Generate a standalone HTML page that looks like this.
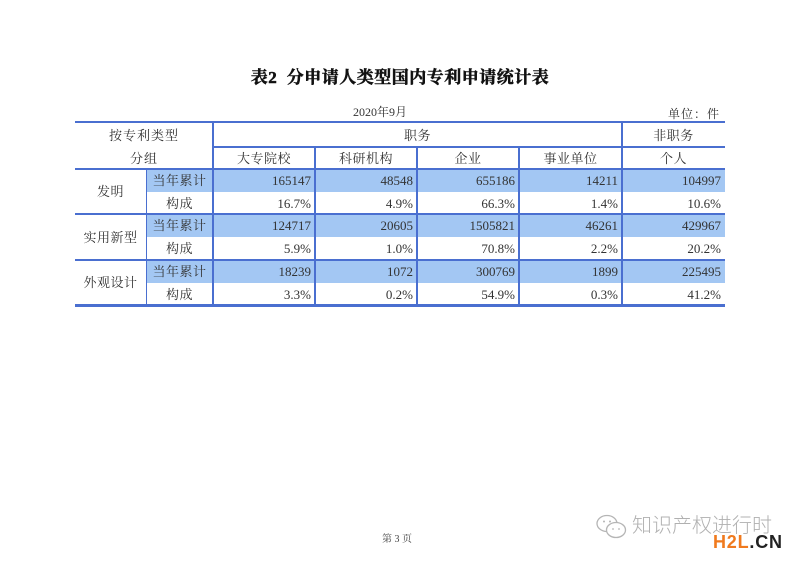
<!DOCTYPE html>
<html><head><meta charset="utf-8">
<style>
html,body{margin:0;padding:0;background:#fff;}
body{width:800px;height:565px;position:relative;overflow:hidden;font-family:"Liberation Serif","Noto Serif CJK SC",serif;color:#333;}
.a{position:absolute;}
.h{position:absolute;background:#4a6fd0;}
.f{position:absolute;background:#a3c7f3;}
.t{position:absolute;display:flex;align-items:center;font-size:13px;line-height:1;white-space:nowrap;}
.c{justify-content:center;letter-spacing:0.5px;}
.r{justify-content:flex-end;padding-right:4px;box-sizing:border-box;}
</style></head><body>

<div class="a" style="left:0;top:63px;width:800px;text-align:center;font-size:17px;font-weight:bold;color:#111;font-family:'Liberation Serif','Noto Serif CJK SC',serif;letter-spacing:0.5px;-webkit-text-stroke:0.5px #111;"><span>表2&nbsp;&nbsp;分申请人类型国内专利申请统计表</span></div>

<div class="a" style="left:353px;top:103px;font-size:12px;color:#333;">2020年9月</div>
<div class="a" style="left:668px;top:105px;font-size:12px;color:#333;letter-spacing:1px;">单位：件</div>

<!-- fills -->
<div class="f" style="left:146px;top:169px;width:579px;height:23px;"></div>
<div class="f" style="left:146px;top:214px;width:579px;height:23px;"></div>
<div class="f" style="left:146px;top:260px;width:579px;height:23px;"></div>

<!-- horizontal lines -->
<div class="h" style="left:75px;top:121px;width:650px;height:2px;"></div>
<div class="h" style="left:213px;top:146px;width:512px;height:1.5px;"></div>
<div class="h" style="left:75px;top:168px;width:650px;height:2px;"></div>
<div class="h" style="left:75px;top:213px;width:650px;height:2px;"></div>
<div class="h" style="left:75px;top:259px;width:650px;height:2px;"></div>
<div class="h" style="left:75px;top:304px;width:650px;height:2.5px;"></div>

<!-- vertical lines -->
<div class="h" style="left:145.5px;top:169px;width:1.5px;height:136px;"></div>
<div class="h" style="left:212px;top:122px;width:1.5px;height:183px;"></div>
<div class="h" style="left:314px;top:147px;width:1.5px;height:158px;"></div>
<div class="h" style="left:416px;top:147px;width:1.5px;height:158px;"></div>
<div class="h" style="left:518px;top:147px;width:1.5px;height:158px;"></div>
<div class="h" style="left:621px;top:122px;width:1.5px;height:183px;"></div>

<!-- header -->
<div class="t c" style="left:75px;top:123px;width:138px;height:24px;letter-spacing:1px;">按专利类型</div>
<div class="t c" style="left:75px;top:147px;width:138px;height:22px;letter-spacing:1px;">分组</div>
<div class="t c" style="left:213px;top:123px;width:409px;height:24px;">职务</div>
<div class="t c" style="left:622px;top:123px;width:103px;height:24px;">非职务</div>
<div class="t c" style="left:213px;top:147px;width:102px;height:22px;">大专院校</div>
<div class="t c" style="left:315px;top:147px;width:102px;height:22px;">科研机构</div>
<div class="t c" style="left:417px;top:147px;width:102px;height:22px;">企业</div>
<div class="t c" style="left:519px;top:147px;width:103px;height:22px;">事业单位</div>
<div class="t c" style="left:622px;top:147px;width:103px;height:22px;">个人</div>

<!-- group labels -->
<div class="t c" style="left:75px;top:169px;width:71px;height:45px;">发明</div>
<div class="t c" style="left:75px;top:214px;width:71px;height:46px;">实用新型</div>
<div class="t c" style="left:75px;top:260px;width:71px;height:45px;">外观设计</div>

<!-- row 1 -->
<div class="t c" style="left:146px;top:169px;width:67px;height:23px;">当年累计</div>
<div class="t r" style="left:213px;top:169px;width:102px;height:23px;">165147</div>
<div class="t r" style="left:315px;top:169px;width:102px;height:23px;">48548</div>
<div class="t r" style="left:417px;top:169px;width:102px;height:23px;">655186</div>
<div class="t r" style="left:519px;top:169px;width:103px;height:23px;">14211</div>
<div class="t r" style="left:622px;top:169px;width:103px;height:23px;">104997</div>
<!-- row 2 -->
<div class="t c" style="left:146px;top:192px;width:67px;height:22px;">构成</div>
<div class="t r" style="left:213px;top:192px;width:102px;height:22px;">16.7%</div>
<div class="t r" style="left:315px;top:192px;width:102px;height:22px;">4.9%</div>
<div class="t r" style="left:417px;top:192px;width:102px;height:22px;">66.3%</div>
<div class="t r" style="left:519px;top:192px;width:103px;height:22px;">1.4%</div>
<div class="t r" style="left:622px;top:192px;width:103px;height:22px;">10.6%</div>
<!-- row 3 -->
<div class="t c" style="left:146px;top:214px;width:67px;height:23px;">当年累计</div>
<div class="t r" style="left:213px;top:214px;width:102px;height:23px;">124717</div>
<div class="t r" style="left:315px;top:214px;width:102px;height:23px;">20605</div>
<div class="t r" style="left:417px;top:214px;width:102px;height:23px;">1505821</div>
<div class="t r" style="left:519px;top:214px;width:103px;height:23px;">46261</div>
<div class="t r" style="left:622px;top:214px;width:103px;height:23px;">429967</div>
<!-- row 4 -->
<div class="t c" style="left:146px;top:237px;width:67px;height:23px;">构成</div>
<div class="t r" style="left:213px;top:237px;width:102px;height:23px;">5.9%</div>
<div class="t r" style="left:315px;top:237px;width:102px;height:23px;">1.0%</div>
<div class="t r" style="left:417px;top:237px;width:102px;height:23px;">70.8%</div>
<div class="t r" style="left:519px;top:237px;width:103px;height:23px;">2.2%</div>
<div class="t r" style="left:622px;top:237px;width:103px;height:23px;">20.2%</div>
<!-- row 5 -->
<div class="t c" style="left:146px;top:260px;width:67px;height:23px;">当年累计</div>
<div class="t r" style="left:213px;top:260px;width:102px;height:23px;">18239</div>
<div class="t r" style="left:315px;top:260px;width:102px;height:23px;">1072</div>
<div class="t r" style="left:417px;top:260px;width:102px;height:23px;">300769</div>
<div class="t r" style="left:519px;top:260px;width:103px;height:23px;">1899</div>
<div class="t r" style="left:622px;top:260px;width:103px;height:23px;">225495</div>
<!-- row 6 -->
<div class="t c" style="left:146px;top:283px;width:67px;height:22px;">构成</div>
<div class="t r" style="left:213px;top:283px;width:102px;height:22px;">3.3%</div>
<div class="t r" style="left:315px;top:283px;width:102px;height:22px;">0.2%</div>
<div class="t r" style="left:417px;top:283px;width:102px;height:22px;">54.9%</div>
<div class="t r" style="left:519px;top:283px;width:103px;height:22px;">0.3%</div>
<div class="t r" style="left:622px;top:283px;width:103px;height:22px;">41.2%</div>

<!-- footer -->
<div class="a" style="left:382px;top:530px;font-size:10px;color:#444;">第 3 页</div>

<!-- watermark -->
<svg class="a" style="left:596px;top:514px;" width="32" height="27" viewBox="0 0 32 27">
  <ellipse cx="11" cy="9.5" rx="10" ry="8" fill="none" stroke="#b5b5b5" stroke-width="1.3"/>
  <ellipse cx="20" cy="16" rx="9.5" ry="7.5" fill="#fff" stroke="#b5b5b5" stroke-width="1.3"/>
  <circle cx="8" cy="7.5" r="1" fill="#b5b5b5"/><circle cx="14" cy="7.5" r="1" fill="#b5b5b5"/>
  <circle cx="17" cy="15" r="0.9" fill="#b5b5b5"/><circle cx="23" cy="15" r="0.9" fill="#b5b5b5"/>
</svg>
<div class="a" style="left:632px;top:515px;font-size:20px;color:#b0b0b0;font-family:'Liberation Sans','Noto Sans CJK SC',sans-serif;font-weight:300;line-height:1.1;">知识产权进行时</div>
<div class="a" style="left:713px;top:533px;font-size:18px;font-weight:bold;font-family:'Liberation Sans',sans-serif;letter-spacing:0.8px;line-height:1;"><span style="color:#f07a1e;">H2L</span><span style="color:#222;">.CN</span></div>

</body></html>
